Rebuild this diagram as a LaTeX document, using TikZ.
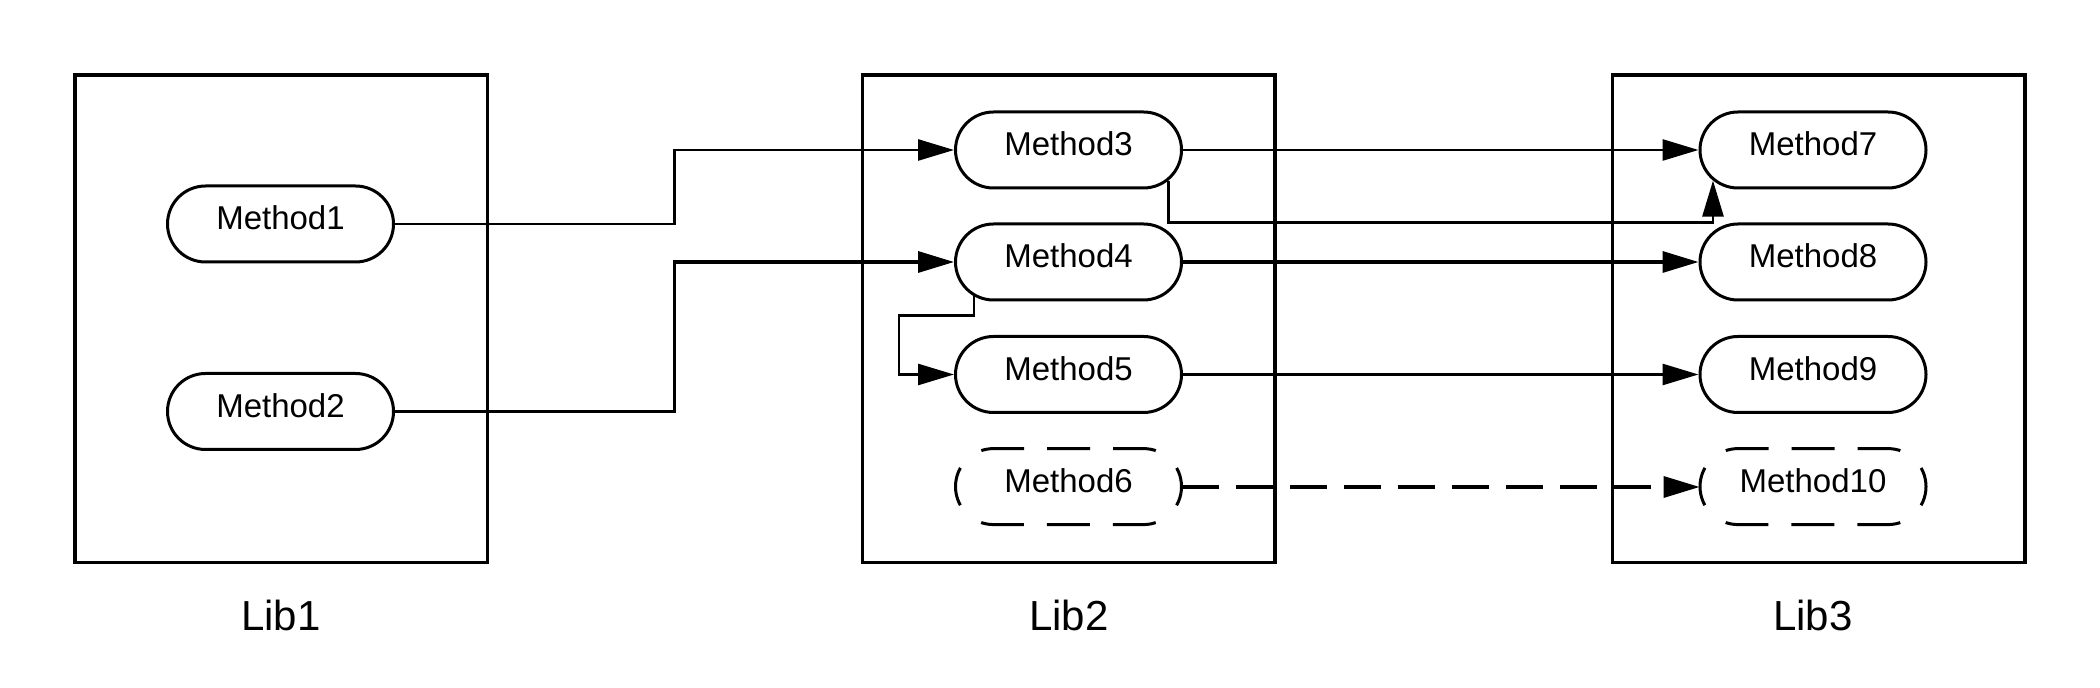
\documentclass[tikz,border=0pt]{standalone}
\usepackage{fontspec}
\setmainfont{Liberation Sans}
\usetikzlibrary{shapes.misc,arrows.meta,calc}
\begin{document}
\begin{tikzpicture}[x=0.5pt,y=0.5pt,
  libbox/.style={draw,line width=1.65pt,minimum width=206.25pt,minimum height=243.75pt,inner sep=0pt},
  pill/.style={rounded rectangle,draw,line width=1.5pt,minimum width=113pt,minimum height=38pt,inner sep=0pt,text height=11.8pt,text depth=6pt,font=\fontsize{16.5pt}{18pt}\selectfont},
  ghost/.style={rounded rectangle,minimum width=113pt,minimum height=38pt,inner sep=0pt,text height=11.8pt,text depth=6pt,font=\fontsize{16.5pt}{18pt}\selectfont},
  pilldash/.style={line width=1.5pt,dash pattern=on 21.5pt off 11.5pt on 21.5pt off 13.85pt on 19.5pt off 13.85pt on 21.5pt off 11.5pt,dash phase=10.75pt},
  liblabel/.style={font=\fontsize{21pt}{24pt}\selectfont},
  arr/.style={line width=1.35pt,-{Triangle[length=18pt,width=10.5pt]}},
  arrthick/.style={arr,line width=1.65pt},
  arrdash/.style={arr,line width=1.65pt,dash pattern=on 18.5pt off 8.5pt}]
\useasboundingbox (0,0) rectangle (2100,-688);
% library boxes
\node[libbox] (lib1) at (281.25,-318.75) {};
\node[libbox] (lib2) at (1068.75,-318.75) {};
\node[libbox] (lib3) at (1818.75,-318.75) {};
\node[liblabel] (l1) at (281,-615) {Lib1};
\node[liblabel] (l2) at (1069,-615) {Lib2};
\node[liblabel] (l3) at (1813,-615) {Lib3};
% methods
\node[pill] (m1) at (280.5,-224) {Method1};
\node[pill] (m2) at (280.5,-411.5) {Method2};
\node[pill] (m3) at (1068.5,-150) {Method3};
\node[pill] (m4) at (1068.5,-262) {Method4};
\node[pill] (m5) at (1068.5,-374.5) {Method5};
\node[ghost] (m6) at (1068.5,-487) {Method6};
\node[pill] (m7) at (1813,-150) {Method7};
\node[pill] (m8) at (1813,-262) {Method8};
\node[pill] (m9) at (1813,-374.5) {Method9};
\node[ghost] (m10) at (1813,-487) {Method10};
% dashed outlines
\foreach \n in {m6,m10}{
  \draw[pilldash] (\n.north) -- ++(75,0) arc[start angle=90,end angle=-90,radius=19pt]
    -- ++(-150,0) arc[start angle=270,end angle=90,radius=19pt] -- cycle;
}
% connectors
\coordinate (j) at (674.5,0);
\coordinate (k) at (899,0);
\draw[arr] (m1.east) -| (j |- m3.west) -- (m3.west);
\draw[arrthick] (m2.east) -| (j |- m4.west) -- (m4.west);
\draw[arr] (m3.east) -- (m7.west);
\draw[arr] (m3.-17) |- (m8.north -| m7.-163) -- (m7.-163);
\draw[arrthick] (m4.east) -- (m8.west);
\draw[arr] (m4.-160) -- ++(0,-19) -| (k |- m5.west) -- (m5.west);
\draw[arr] (m5.east) -- (m9.west);
\draw[arrdash] (m6.east) -- (m10.west);
\end{tikzpicture}
\end{document}
